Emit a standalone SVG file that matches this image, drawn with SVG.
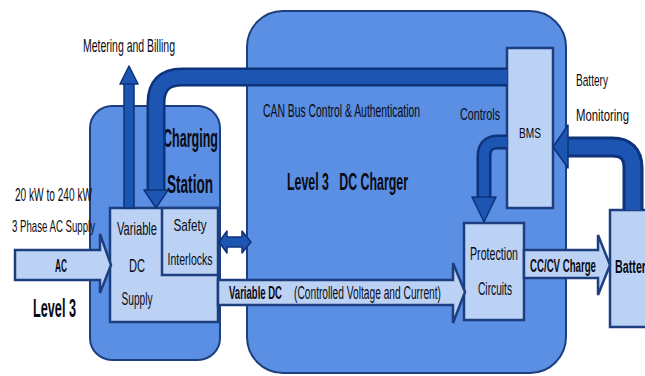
<svg xmlns="http://www.w3.org/2000/svg" width="645" height="376" viewBox="0 0 645 376">
<defs>
<style>
.outer{fill:#5b8fe3;stroke:#1d3f80;stroke-width:2}
.box{fill:#bcd2f4;stroke:#1d3f80;stroke-width:2.5}
.band-o{fill:none;stroke:#0d337a;stroke-linejoin:round}
.band-i{fill:none;stroke:#1d55b2;stroke-linejoin:round}
.head{fill:#1d55b2;stroke:#0d337a;stroke-width:1.5;stroke-linejoin:round}
.flow{fill:#bcd2f4;stroke:#1d3f80;stroke-width:2.5;stroke-linejoin:miter}
text{font-family:"Liberation Sans","Open Sans",sans-serif;fill:#0a0a14;font-size:17px}
.b{font-weight:bold}
.c{text-anchor:middle}
.pre{white-space:pre}
</style>
</defs>
<rect width="645" height="376" fill="#ffffff"/>
<g id="charger">
<rect class="outer" x="247" y="11" width="319" height="362" rx="36" ry="36"/>
<text x="263" y="117" style="font-size:18px" textLength="157" lengthAdjust="spacingAndGlyphs">CAN Bus Control &amp; Authentication</text>
<text class="b pre" x="287" y="190" textLength="121" lengthAdjust="spacingAndGlyphs" style="font-size:24px">Level 3   DC Charger</text>
</g>
<g id="station">
<rect class="outer" x="90" y="106" width="130" height="254" rx="22" ry="22"/>
<text class="b" x="163" y="147" style="font-size:26px" textLength="55" lengthAdjust="spacingAndGlyphs">Charging</text>
<text class="b" x="167" y="193" style="font-size:26px" textLength="46" lengthAdjust="spacingAndGlyphs">Station</text>
</g>
<g id="supply">
<rect class="box" x="110" y="208" width="108" height="114"/>
<text class="c" x="137" y="235" style="font-size:19px" textLength="40" lengthAdjust="spacingAndGlyphs">Variable</text>
<text class="c" x="137" y="272" style="font-size:19px" textLength="16" lengthAdjust="spacingAndGlyphs">DC</text>
<text class="c" x="137" y="305" style="font-size:18px" textLength="31" lengthAdjust="spacingAndGlyphs">Supply</text>
</g>
<g id="safety">
<rect class="box" x="162" y="208" width="56" height="67"/>
<text class="c" x="190" y="231" style="font-size:17px" textLength="33" lengthAdjust="spacingAndGlyphs">Safety</text>
<text class="c" x="190" y="265" style="font-size:17px" textLength="45" lengthAdjust="spacingAndGlyphs">Interlocks</text>
</g>
<g id="bms">
<rect class="box" x="507" y="48" width="46" height="160"/>
<text class="c" x="530" y="138" style="font-size:15px" textLength="22" lengthAdjust="spacingAndGlyphs">BMS</text>
</g>
<g id="protection">
<rect class="box" x="464" y="223" width="60" height="97"/>
<text class="c" x="494" y="260" style="font-size:19px" textLength="48" lengthAdjust="spacingAndGlyphs">Protection</text>
<text class="c" x="495" y="295" style="font-size:19px" textLength="34" lengthAdjust="spacingAndGlyphs">Circuits</text>
</g>
<g id="battery">
<rect class="box" x="610" y="210" width="45" height="117"/>
<text class="b" x="615" y="273" style="font-size:18px" textLength="37" lengthAdjust="spacingAndGlyphs">Battery</text>
</g>
<g id="connectors">
<polygon class="flow" points="15,250 100,250 100,234 111,265 100,293 100,280 15,280"/>
<polygon class="flow" points="218,280 453,280 453,263 465,292 453,323 453,305 218,305"/>
<polygon class="flow" points="524,250 598,250 598,235 610,265 598,295 598,278 524,278"/>
<rect x="124" y="82" width="10" height="126" fill="#1d55b2" stroke="#0d337a" stroke-width="1.5"/>
<polygon class="head" points="120,84 138,84 129,66"/>
<path class="band-o" d="M507,77 H182 Q156,77 156,103 V192" stroke-width="19"/>
<path class="band-i" d="M507,77 H182 Q156,77 156,103 V192" stroke-width="14"/>
<polygon class="head" points="144,190 168,190 156,208"/>
<path class="band-o" d="M507,142 H498 Q484,142 484,156 V199" stroke-width="15"/>
<path class="band-i" d="M507,142 H498 Q484,142 484,156 V199" stroke-width="10"/>
<polygon class="head" points="472,197 496,197 484,222"/>
<path class="band-o" d="M633,210 V168 Q633,147 612,147 H566" stroke-width="21"/>
<path class="band-i" d="M633,210 V168 Q633,147 612,147 H566" stroke-width="15"/>
<polygon class="head" points="568,125 568,168 553,147"/>
<polygon class="head" points="219,242 227,231 227,237 242,237 242,231 251,242 242,253 242,247 227,247 227,253"/>
</g>
<g id="labels">
<text x="83" y="52" style="font-size:19px" textLength="92" lengthAdjust="spacingAndGlyphs">Metering and Billing</text>
<text x="460" y="120" style="font-size:16px" textLength="40" lengthAdjust="spacingAndGlyphs">Controls</text>
<text x="576" y="86" style="font-size:17px" textLength="32" lengthAdjust="spacingAndGlyphs">Battery</text>
<text x="576" y="121" style="font-size:17px" textLength="53" lengthAdjust="spacingAndGlyphs">Monitoring</text>
<text x="15" y="201" style="font-size:18px" textLength="77" lengthAdjust="spacingAndGlyphs">20 kW to 240 kW</text>
<text x="12" y="232" style="font-size:17px" textLength="83" lengthAdjust="spacingAndGlyphs">3 Phase AC Supply</text>
<text class="b" x="55" y="272" style="font-size:18px" textLength="12" lengthAdjust="spacingAndGlyphs">AC</text>
<text class="b" x="33" y="317" style="font-size:26px" textLength="43" lengthAdjust="spacingAndGlyphs">Level 3</text>
<text class="b" x="229" y="299" style="font-size:18px" textLength="53" lengthAdjust="spacingAndGlyphs">Variable DC</text>
<text x="294" y="299" style="font-size:18px" textLength="147" lengthAdjust="spacingAndGlyphs">(Controlled Voltage and Current)</text>
<text class="b" x="530" y="272" style="font-size:18px" textLength="66" lengthAdjust="spacingAndGlyphs">CC/CV Charge</text>
</g>
</svg>
